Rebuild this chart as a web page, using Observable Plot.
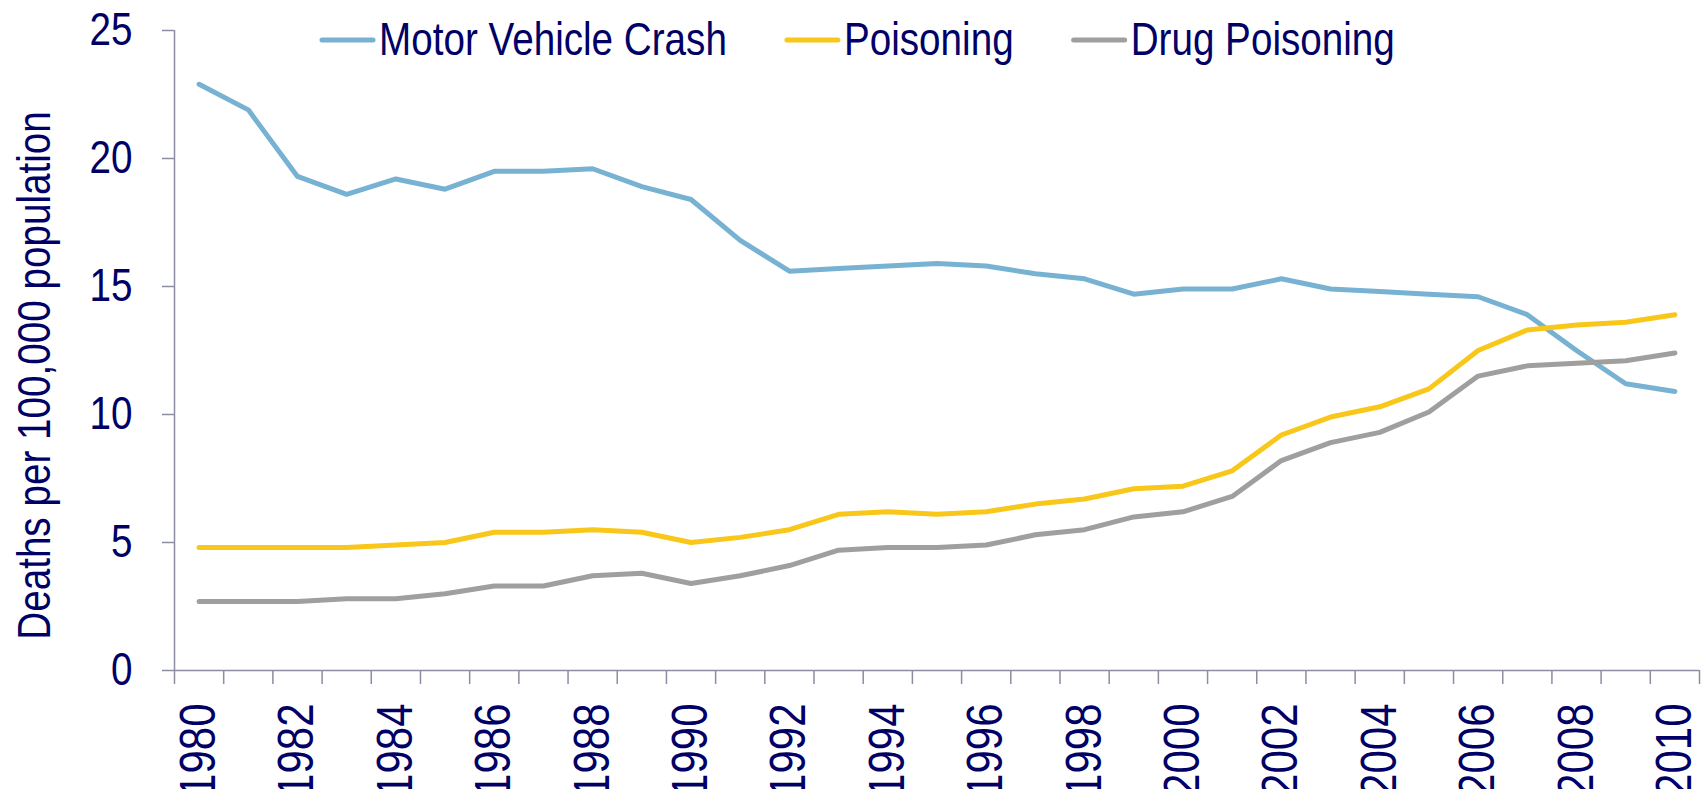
<!DOCTYPE html>
<html>
<head>
<meta charset="utf-8">
<script src="https://cdn.jsdelivr.net/npm/d3@7"></script>
<script src="https://cdn.jsdelivr.net/npm/@observablehq/plot@0.6"></script>
<style>
  html, body { margin: 0; padding: 0; background: #fff; }
  #wrap { position: relative; width: 1702px; height: 789px; overflow: hidden; }
  #legend { position: absolute; left: 0; top: 0; }
</style>
</head>
<body>
<div id="wrap">
  <div id="chart"></div>
  <svg id="legend" width="1702" height="80"></svg>
</div>
<script>
const years = d3.range(1980, 2011);
const seriesNames = ["Motor Vehicle Crash", "Poisoning", "Drug Poisoning"];
const seriesColors = ["#78B2D2", "#F8C71A", "#A09F9D"];
const motorVehicle = [22.9, 21.9, 19.3, 18.6, 19.2, 18.8, 19.5, 19.5, 19.6, 18.9, 18.4, 16.8, 15.6, 15.7, 15.8, 15.9, 15.8, 15.5, 15.3, 14.7, 14.9, 14.9, 15.3, 14.9, 14.8, 14.7, 14.6, 13.9, 12.5, 11.2, 10.9];
const poisoning = [4.8, 4.8, 4.8, 4.8, 4.9, 5.0, 5.4, 5.4, 5.5, 5.4, 5.0, 5.2, 5.5, 6.1, 6.2, 6.1, 6.2, 6.5, 6.7, 7.1, 7.2, 7.8, 9.2, 9.9, 10.3, 11.0, 12.5, 13.3, 13.5, 13.6, 13.9];
const drugPoisoning = [2.7, 2.7, 2.7, 2.8, 2.8, 3.0, 3.3, 3.3, 3.7, 3.8, 3.4, 3.7, 4.1, 4.7, 4.8, 4.8, 4.9, 5.3, 5.5, 6.0, 6.2, 6.8, 8.2, 8.9, 9.3, 10.1, 11.5, 11.9, 12.0, 12.1, 12.4];
const yTicks = [0, 5, 10, 15, 20, 25];
const xLabelYears = d3.range(1980, 2011, 2);
const yLabel = "Deaths per 100,000 population";

const seriesValues = [motorVehicle, poisoning, drugPoisoning];
const data = seriesNames.flatMap((name, i) => years.map((year, j) => ({series: name, year, value: seriesValues[i][j]})));
const boundaries = d3.range(years[0] - 0.5, years[years.length - 1] + 1, 1);

const navy = "#000066";
const axisGray = "#8C8CA2";
const fontFam = '"Liberation Sans", Arial, sans-serif';
const NARROW = 0.84; // condensed (Arial Narrow-like) width ratio

const chart = Plot.plot({
  width: 1702,
  height: 789,
  marginLeft: 174,
  marginRight: 3,
  marginTop: 30,
  marginBottom: 119,
  style: { fontFamily: fontFam, background: "#fff", overflow: "visible" },
  x: { type: "linear", domain: [years[0] - 0.5, years[years.length - 1] + 0.5] },
  y: { domain: [0, 25] },
  color: { domain: seriesNames, range: seriesColors },
  marks: [
    Plot.ruleX([years[0] - 0.5], { stroke: axisGray, strokeWidth: 1.5 }),
    Plot.ruleY([0], { stroke: axisGray, strokeWidth: 1.5 }),
    Plot.axisY({ ticks: yTicks, tickSize: 12, tickPadding: 30, fontSize: 46, color: navy, stroke: axisGray, strokeWidth: 1.5, label: null, tickFormat: d => d }),
    Plot.axisX({ ticks: boundaries, tickSize: 14, tickFormat: () => "", stroke: axisGray, strokeWidth: 1.5, label: null }),
    Plot.axisX({ ticks: xLabelYears, tickSize: 0, tickPadding: 33, tickRotate: -90, fontSize: 50, color: navy, label: null, tickFormat: d => String(d) }),
    Plot.text([yLabel], { frameAnchor: "left", textAnchor: "middle", dx: -139, dy: 25, rotate: -90, fontSize: 46, fill: navy, text: d => d }),
    Plot.line(data, { x: "year", y: "value", z: "series", stroke: "series", strokeWidth: 5, strokeLinejoin: "round", strokeLinecap: "round" })
  ]
});
document.getElementById("chart").appendChild(chart);

function narrow(root) {
  root.querySelectorAll("text").forEach(t => {
    const len = t.getComputedTextLength();
    if (len > 0) {
      t.setAttribute("textLength", (len * NARROW).toFixed(2));
      t.setAttribute("lengthAdjust", "spacingAndGlyphs");
    }
  });
}
narrow(chart);

// Legend (overlaid at top, as in the reference)
const legend = d3.select("#legend");
let lx = 320;
const ly = 40;
seriesNames.forEach((name, i) => {
  legend.append("line")
    .attr("x1", lx + 2).attr("x2", lx + 53).attr("y1", ly).attr("y2", ly)
    .attr("stroke", seriesColors[i]).attr("stroke-width", 5).attr("stroke-linecap", "round");
  const t = legend.append("text")
    .attr("x", lx + 59).attr("y", ly + 15)
    .attr("fill", navy).attr("font-family", fontFam).attr("font-size", 46)
    .text(name);
  const len = t.node().getComputedTextLength() * NARROW;
  t.attr("textLength", len.toFixed(2)).attr("lengthAdjust", "spacingAndGlyphs");
  lx = lx + 59 + len + 58;
});
</script>
</body>
</html>
